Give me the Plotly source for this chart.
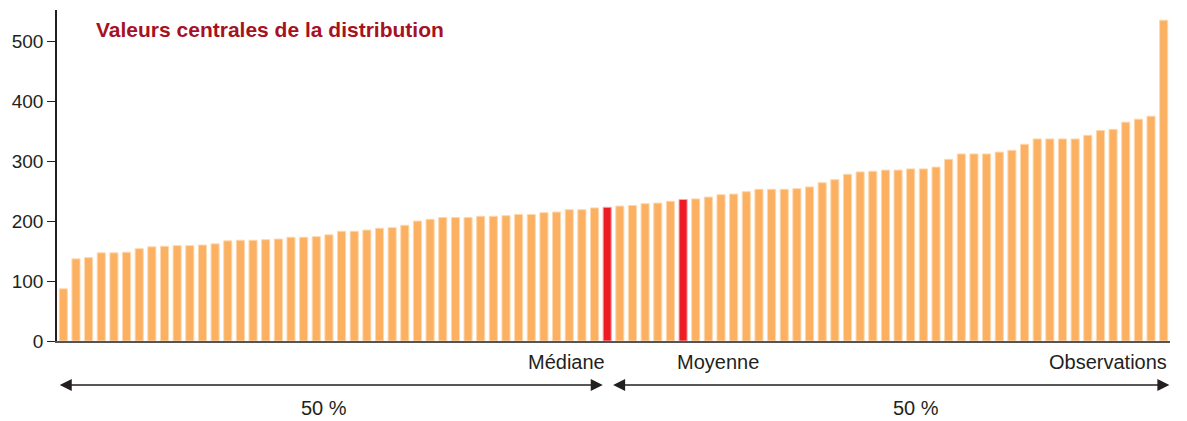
import plotly.graph_objects as go

values = [87, 137, 139, 147, 147, 148, 154, 157, 158, 159, 159, 160, 162, 167, 168,
          168, 169, 170, 173, 173, 174, 177, 183, 183, 185, 188, 189, 193, 200, 203,
          206, 206, 206, 208, 208, 209, 211, 211, 214, 215, 219, 219, 222, 223,
          225, 226, 229, 230, 233, 236, 237, 240, 244, 245, 249, 253, 253, 253, 254,
          257, 264, 269, 278, 282, 283, 285, 285, 287, 287, 290, 303, 312, 312, 312,
          315, 318, 328, 337, 337, 337, 337, 343, 351, 353, 365, 370, 375, 535]
median_index = 43
mean_index = 49
title_text = "Valeurs centrales de la distribution"
label_median = "Médiane"
label_mean = "Moyenne"
label_obs = "Observations"
label_half = "50 %"
y_ticks = [0, 100, 200, 300, 400, 500]

ORANGE = "#FBB062"
RED = "#ED1C24"
DARK = "#231F20"

n = len(values)
x = list(range(n))
colors = [RED if i in (median_index, mean_index) else ORANGE for i in x]
edge = ["#F6A7A7" if i in (median_index, mean_index) else "#FDD8AE" for i in x]

fig = go.Figure(go.Bar(x=x, y=values, marker=dict(color=colors, line=dict(color=edge, width=1)),
                       width=0.64, hoverinfo="y"))

font = "Liberation Sans, Arial, sans-serif"
LBL = 20
ann = []
ann.append(dict(x=0.033, y=0.94, xref="paper", yref="paper", text="<b>" + title_text + "</b>",
                showarrow=False, xanchor="left", yanchor="middle",
                font=dict(family=font, size=21, color="#A6121F")))
ann.append(dict(x=median_index + 0.0, y=-0.063, xref="x", yref="paper", text=label_median,
                showarrow=False, xanchor="right", yanchor="middle",
                font=dict(family=font, size=LBL, color=DARK)))
ann.append(dict(x=mean_index - 0.6, y=-0.063, xref="x", yref="paper", text=label_mean,
                showarrow=False, xanchor="left", yanchor="middle",
                font=dict(family=font, size=LBL, color=DARK)))
ann.append(dict(x=n - 0.55, y=-0.063, xref="x", yref="paper", text=label_obs,
                showarrow=False, xanchor="right", yanchor="middle",
                font=dict(family=font, size=LBL, color=DARK)))
for cx in [20.6, 67.4]:
    ann.append(dict(x=cx, y=-0.202, xref="x", yref="paper", text=label_half,
                    showarrow=False, xanchor="center", yanchor="middle",
                    font=dict(family=font, size=LBL, color=DARK)))
# double-headed arrows
for x0, x1 in [(-0.4, median_index - 0.35), (median_index + 0.35, n - 0.55)]:
    ann.append(dict(x=x1, y=-0.133, xref="x", yref="paper", ax=x0, ay=0,
                    axref="x", ayref="pixel", text="", showarrow=True,
                    arrowhead=2, startarrowhead=2, arrowside="end+start",
                    arrowsize=1.6, startarrowsize=1.6, arrowwidth=1.5, arrowcolor=DARK,
                    standoff=0, startstandoff=0))

fig.update_layout(
    width=1179, height=413,
    margin=dict(l=49, r=17, t=2, b=80),
    paper_bgcolor="white", plot_bgcolor="white",
    showlegend=False, bargap=0.36,
    annotations=ann,
    font=dict(family=font, color=DARK),
    xaxis=dict(range=[-0.5, n - 0.5], showticklabels=False, ticks="", showgrid=False,
               zeroline=False, showline=True, linecolor="#555555", linewidth=1.5,
               fixedrange=True),
    yaxis=dict(range=[0, 552], tickvals=y_ticks, ticks="outside", ticklen=8, tickwidth=1.2,
               tickcolor=DARK, showgrid=False, zeroline=False, showline=True,
               linecolor=DARK, linewidth=1.5, tickfont=dict(family=font, size=19, color=DARK),
               fixedrange=True),
)
fig.write_html("out.html")
